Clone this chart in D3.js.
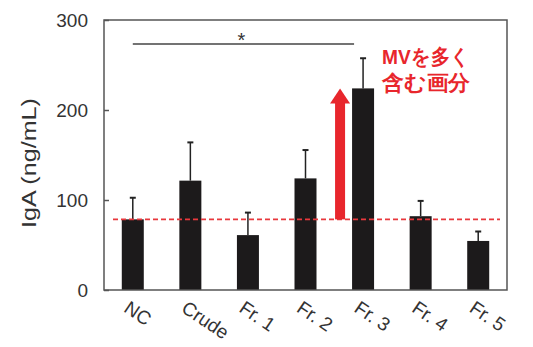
<!DOCTYPE html>
<html>
<head>
<meta charset="utf-8">
<script src="https://cdn.jsdelivr.net/npm/d3@7"></script>
<style>
  body { margin: 0; background: #fff; }
  text { font-family: "Liberation Sans", Arial, sans-serif; }
</style>
</head>
<body>
<div id="chart"></div>
<script>
// data
var groups   = ["NC", "Crude", "Fr. 1", "Fr. 2", "Fr. 3", "Fr. 4", "Fr. 5"];
var means    = [78.5, 121.5, 61, 124, 224, 82, 54.5];
var errTops  = [102.5, 164, 86, 155.5, 257.5, 99, 65];
var yTicks   = [0, 100, 200, 300];
var ncLevel  = 78.5;   // dashed reference = NC mean
var sigPair  = ["NC", "Fr. 3"];

var w = 533, h = 347;
// plot box (window.top is reserved, so use other names)
var pLeft = 104, pRight = 507, pTop = 20, pBottom = 290;

var svg = d3.select("#chart").append("svg")
  .attr("width", w)
  .attr("height", h);

var x = d3.scaleBand().domain(groups).range([pLeft, pRight]).padding(0);
var y = d3.scaleLinear().domain([0, 300]).range([pBottom, pTop]);
var barW = 22;
var cx = function(g){ return x(g) + x.bandwidth() / 2; };

// bars
svg.selectAll("rect.bar")
  .data(groups)
  .enter()
  .append("rect")
  .attr("class", "bar")
  .attr("x", function(d){ return cx(d) - barW / 2; })
  .attr("y", function(d, i){ return y(means[i]); })
  .attr("width", barW)
  .attr("height", function(d, i){ return y(0) - y(means[i]); })
  .attr("fill", "#1c1a1b");

// error bars (upper only)
var err = svg.append("g").attr("stroke", "#222");
err.selectAll("line.stem")
  .data(groups)
  .enter()
  .append("line")
  .attr("x1", function(d){ return cx(d); })
  .attr("x2", function(d){ return cx(d); })
  .attr("y1", function(d, i){ return y(means[i]); })
  .attr("y2", function(d, i){ return y(errTops[i]); })
  .attr("stroke-width", 1.5);
err.selectAll("line.cap")
  .data(groups)
  .enter()
  .append("line")
  .attr("x1", function(d){ return cx(d) - 3; })
  .attr("x2", function(d){ return cx(d) + 3; })
  .attr("y1", function(d, i){ return y(errTops[i]); })
  .attr("y2", function(d, i){ return y(errTops[i]); })
  .attr("stroke-width", 2);

// dashed line at NC level
svg.append("line")
  .attr("x1", pLeft + 9).attr("x2", pRight - 7)
  .attr("y1", y(ncLevel)).attr("y2", y(ncLevel))
  .attr("stroke", "#e8383d")
  .attr("stroke-width", 1.6)
  .attr("stroke-dasharray", "5,3");

// frame
svg.append("rect")
  .attr("x", pLeft).attr("y", pTop)
  .attr("width", pRight - pLeft).attr("height", pBottom - pTop)
  .attr("fill", "none")
  .attr("stroke", "#555")
  .attr("stroke-width", 1.5);

// y axis, ticks pointing inward
var yAxis = svg.append("g")
  .attr("transform", "translate(" + pLeft + ",0)")
  .call(d3.axisRight(y).tickValues(yTicks).tickSize(5).tickFormat(""));
yAxis.select(".domain").remove();
yAxis.selectAll(".tick line").attr("stroke", "#555").attr("stroke-width", 1.5);

svg.selectAll("text.ytick")
  .data(yTicks)
  .enter()
  .append("text")
  .attr("class", "ytick")
  .attr("x", pLeft - 16)
  .attr("y", function(d){ return y(d); })
  .attr("dy", "0.36em")
  .attr("text-anchor", "end")
  .attr("font-size", 19)
  .attr("fill", "#333")
  .text(function(d){ return d; });

svg.append("text")
  .attr("transform", "translate(28," + ((pTop + pBottom) / 2 + 8) + ") rotate(-90)")
  .attr("text-anchor", "middle")
  .attr("dominant-baseline", "central")
  .attr("font-size", 21)
  .attr("fill", "#333")
  .attr("textLength", 130)
  .attr("lengthAdjust", "spacingAndGlyphs")
  .text("IgA (ng/mL)");

// x labels, slanted
svg.selectAll("text.xlab")
  .data(groups)
  .enter()
  .append("text")
  .attr("class", "xlab")
  .attr("transform", function(d){
    return "translate(" + (cx(d) - 10) + ",311) rotate(34)";
  })
  .attr("font-size", 19)
  .attr("fill", "#333")
  .text(function(d){ return d; });

// significance bracket
var sigY = 44;
var sigX1 = cx(sigPair[0]);
var sigX2 = cx(sigPair[1]) - barW / 2 + 2;
svg.append("line")
  .attr("x1", sigX1).attr("x2", sigX2)
  .attr("y1", sigY).attr("y2", sigY)
  .attr("stroke", "#444")
  .attr("stroke-width", 1.5);
svg.append("text")
  .attr("x", (sigX1 + sigX2) / 2 - 2)
  .attr("y", sigY + 3)
  .attr("text-anchor", "middle")
  .attr("font-size", 20)
  .attr("fill", "#333")
  .text("*");

// red arrow from NC level up to Fr. 3 mean
var ax = cx("Fr. 3") - 23;
var tipY = y(means[4]);
var arrowRed = "#e8262c";
svg.append("rect")
  .attr("x", ax - 5).attr("y", tipY + 14)
  .attr("width", 10).attr("height", y(ncLevel) - tipY - 14)
  .attr("fill", arrowRed);
svg.append("path")
  .attr("d", d3.line()([[ax - 10, tipY + 15], [ax, tipY], [ax + 10, tipY + 15]]) + "Z")
  .attr("fill", arrowRed);

// annotation
var note = svg.append("g")
  .attr("fill", arrowRed)
  .attr("font-weight", "bold")
  .attr("font-size", 21)
  .style("font-family", "'Noto Sans CJK JP', sans-serif");
note.append("text")
  .attr("x", 382).attr("y", 64)
  .attr("textLength", 88)
  .attr("lengthAdjust", "spacingAndGlyphs")
  .text("MVを多く");
note.append("text")
  .attr("x", 382).attr("y", 90)
  .attr("textLength", 88)
  .attr("lengthAdjust", "spacingAndGlyphs")
  .text("含む画分");
</script>
</body>
</html>
